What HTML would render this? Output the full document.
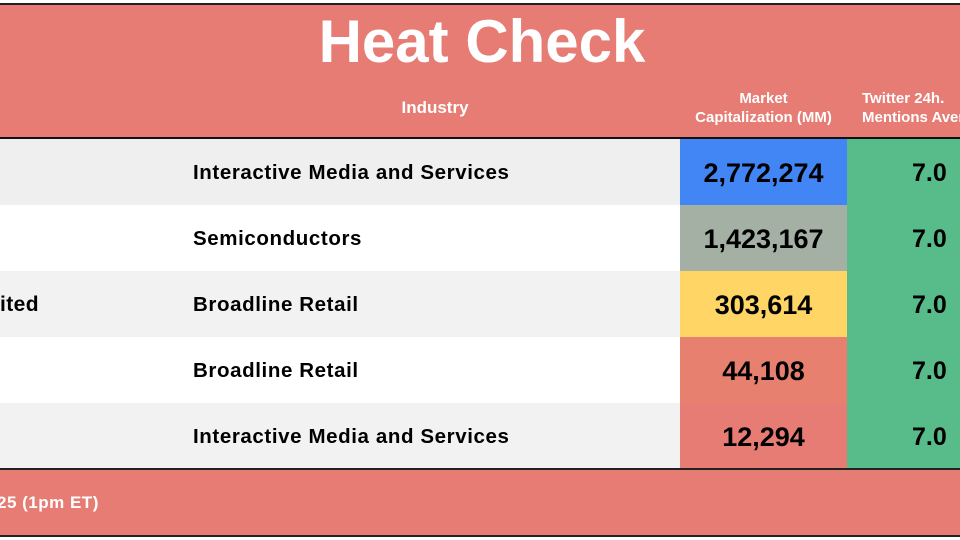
<!DOCTYPE html>
<html><head><style>
body{margin:0;width:960px;height:540px;overflow:hidden;background:#fff;font-family:"Liberation Sans",sans-serif;position:relative}
div{position:absolute;box-sizing:border-box}
.t{white-space:nowrap;font-weight:bold}
</style></head><body>
<div style="left:0;top:3px;width:960px;height:2px;background:#222"></div>
<div style="left:0;top:5px;width:960px;height:132px;background:#e67c73"></div>
<div style="left:0;top:137px;width:960px;height:2px;background:#111"></div>
<div class="t" style="left:0;width:964px;top:9px;text-align:center;color:#fff;font-size:60px;line-height:66px">Heat Check</div>
<div class="t" style="left:385px;width:100px;top:98px;text-align:center;color:#fff;font-size:17px;line-height:20px">Industry</div>
<div class="t" style="left:680px;width:167px;top:89px;text-align:center;color:#fff;font-size:15px;line-height:19px">Market<br>Capitalization (MM)</div>
<div class="t" style="left:862px;width:140px;top:89px;color:#fff;font-size:15px;line-height:19px">Twitter 24h.<br>Mentions Average</div>

<div style="left:0;top:139px;width:960px;height:66px;background:#efefef"></div>
<div style="left:0;top:205px;width:960px;height:66px;background:#fff"></div>
<div style="left:0;top:271px;width:960px;height:66px;background:#f2f2f2"></div>
<div style="left:0;top:337px;width:960px;height:66px;background:#fff"></div>
<div style="left:0;top:403px;width:960px;height:65px;background:#f2f2f2"></div>

<div style="left:680px;top:139px;width:167px;height:66px;background:#4285f4"></div>
<div style="left:680px;top:205px;width:167px;height:66px;background:#a5b0a4"></div>
<div style="left:680px;top:271px;width:167px;height:66px;background:#ffd666"></div>
<div style="left:680px;top:337px;width:167px;height:66px;background:#e8806f"></div>
<div style="left:680px;top:403px;width:167px;height:65px;background:#e67c73"></div>
<div style="left:847px;top:139px;width:113px;height:329px;background:#57bb8a"></div>

<div class="t" style="left:193px;top:161px;font-size:20.5px;line-height:24px;letter-spacing:0.6px">Interactive Media and Services</div>
<div class="t" style="left:193px;top:227px;font-size:20.5px;line-height:24px;letter-spacing:0.6px">Semiconductors</div>
<div class="t" style="left:0;top:293px;font-size:21px;line-height:24px;letter-spacing:0.4px">ited</div>
<div class="t" style="left:193px;top:293px;font-size:20.5px;line-height:24px;letter-spacing:0.6px">Broadline Retail</div>
<div class="t" style="left:193px;top:359px;font-size:20.5px;line-height:24px;letter-spacing:0.6px">Broadline Retail</div>
<div class="t" style="left:193px;top:425px;font-size:20.5px;line-height:24px;letter-spacing:0.6px">Interactive Media and Services</div>

<div class="t" style="left:680px;width:167px;text-align:center;top:158px;font-size:27px;line-height:30px">2,772,274</div>
<div class="t" style="left:680px;width:167px;text-align:center;top:224px;font-size:27px;line-height:30px">1,423,167</div>
<div class="t" style="left:680px;width:167px;text-align:center;top:290px;font-size:27px;line-height:30px">303,614</div>
<div class="t" style="left:680px;width:167px;text-align:center;top:356px;font-size:27px;line-height:30px">44,108</div>
<div class="t" style="left:680px;width:167px;text-align:center;top:422px;font-size:27px;line-height:30px">12,294</div>

<div class="t" style="left:912px;top:158px;font-size:25px;line-height:30px">7.0</div>
<div class="t" style="left:912px;top:224px;font-size:25px;line-height:30px">7.0</div>
<div class="t" style="left:912px;top:290px;font-size:25px;line-height:30px">7.0</div>
<div class="t" style="left:912px;top:356px;font-size:25px;line-height:30px">7.0</div>
<div class="t" style="left:912px;top:422px;font-size:25px;line-height:30px">7.0</div>

<div style="left:0;top:468px;width:960px;height:2px;background:#222"></div>
<div style="left:0;top:470px;width:960px;height:65px;background:#e67c73"></div>
<div style="left:0;top:535px;width:960px;height:2px;background:#222"></div>
<div class="t" style="left:-3px;top:493px;color:#fff;font-size:17px;line-height:20px;letter-spacing:0.5px">25 (1pm ET)</div>
</body></html>
